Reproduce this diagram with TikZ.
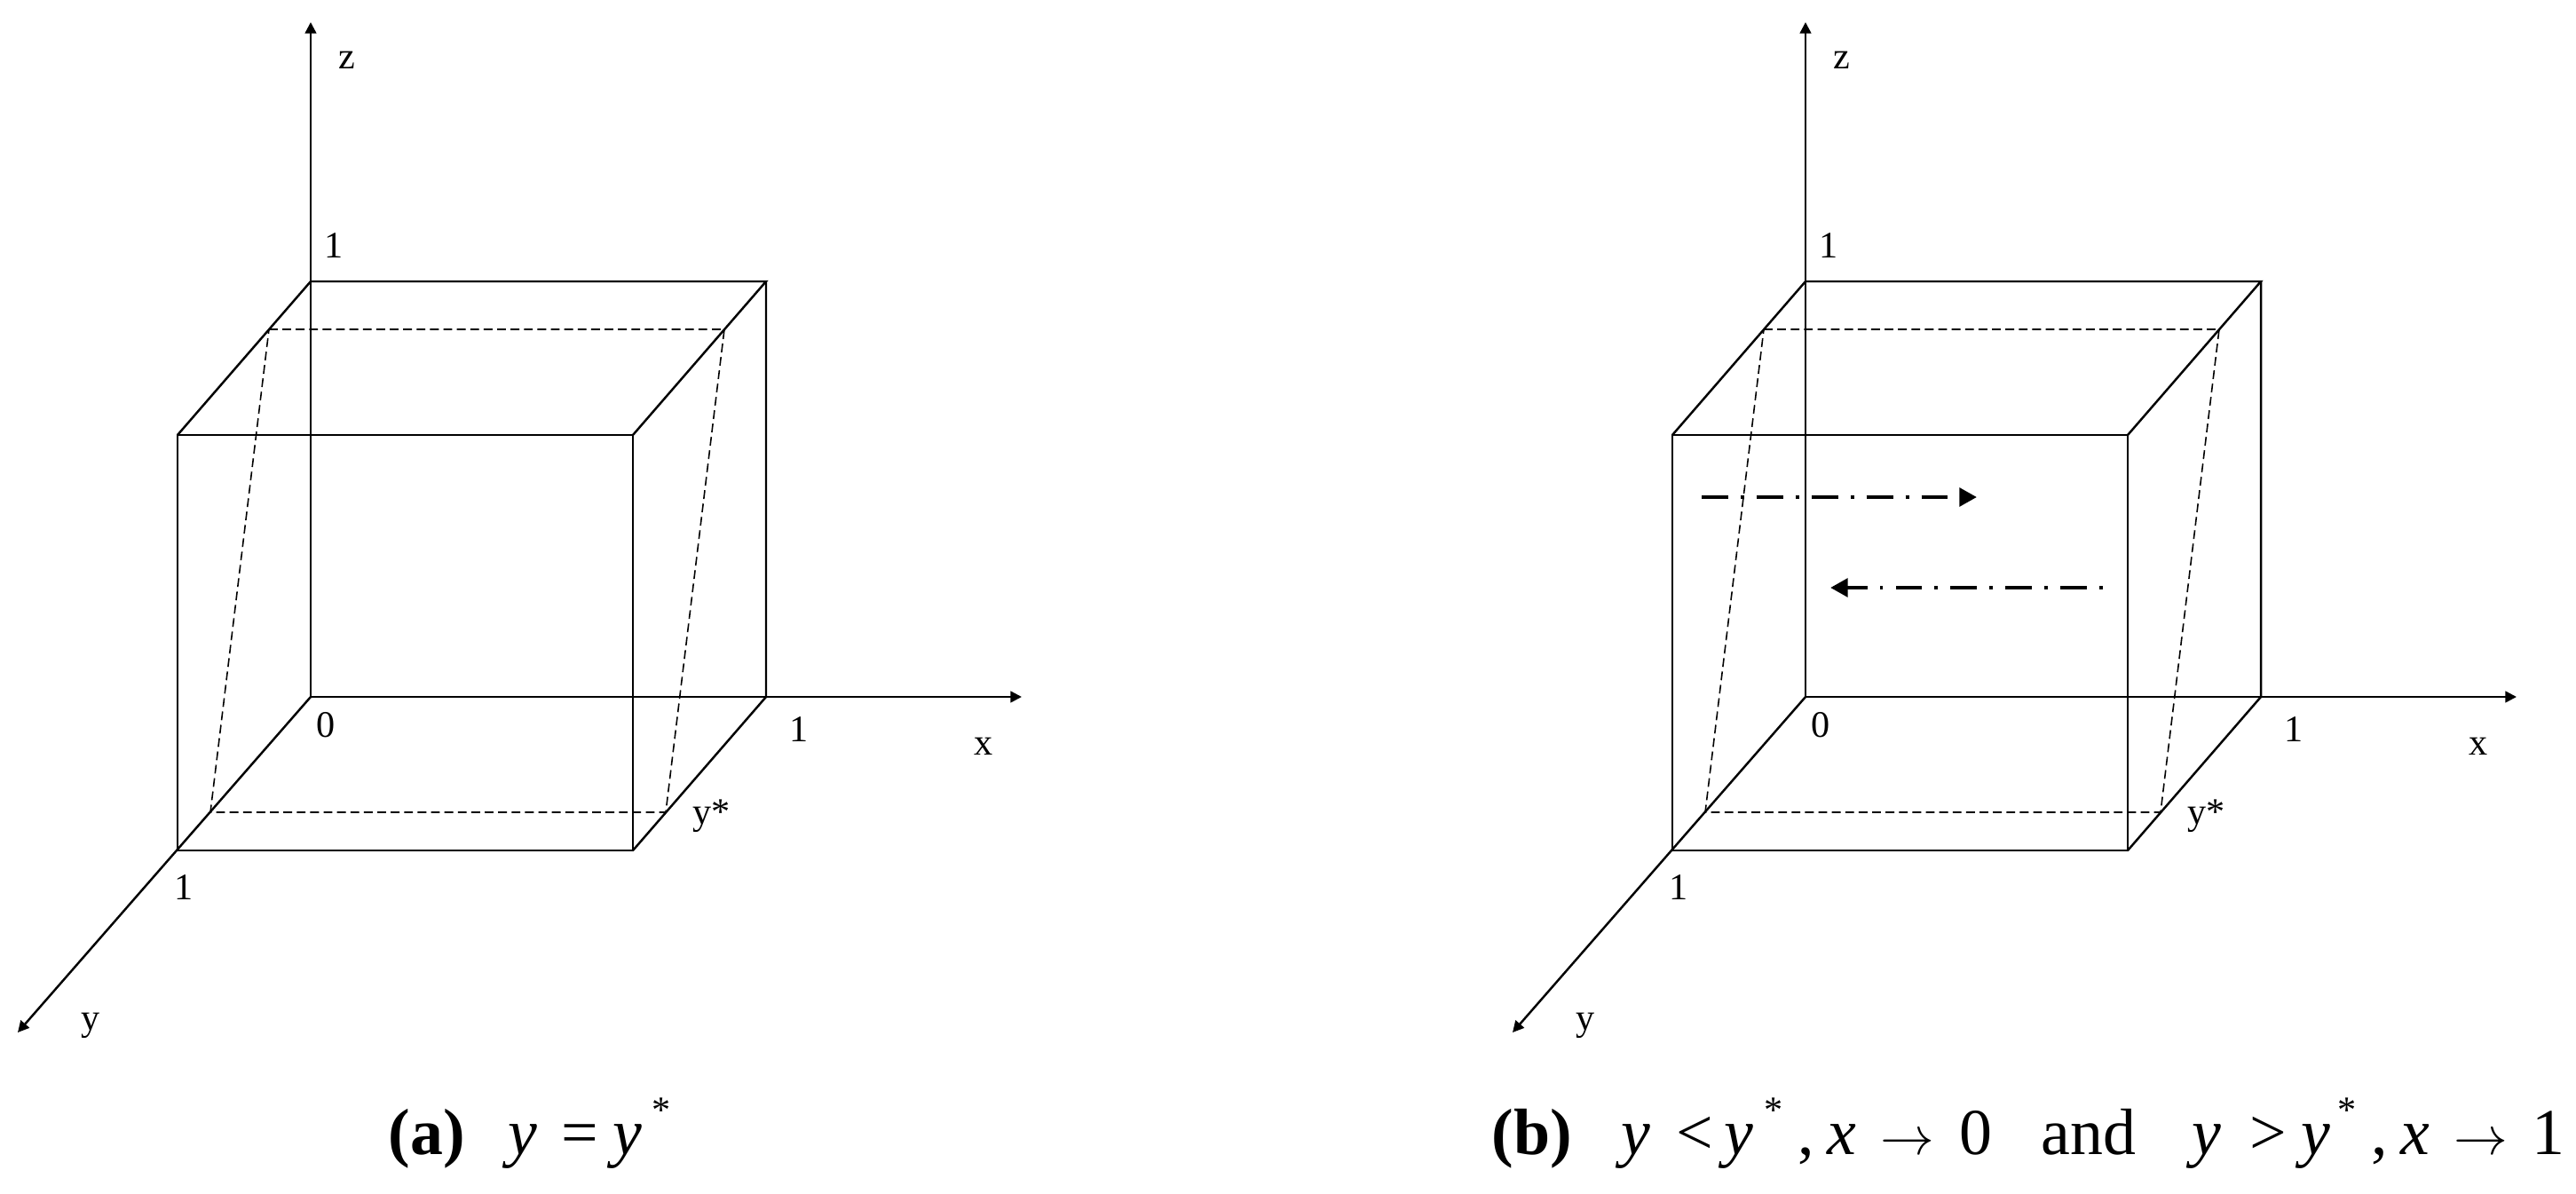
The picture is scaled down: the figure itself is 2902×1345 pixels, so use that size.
\documentclass[tikz,border=0pt]{standalone}
\usepackage{fontspec}
\setmainfont{Liberation Serif}
\usetikzlibrary{arrows.meta}
\begin{document}
\begin{tikzpicture}[x=0.01cm, y=-0.01cm,
  edge/.style={line width=0.7pt, line join=miter},
  axis/.style={line width=0.7pt, -{Triangle[length=3.6pt,width=3.6pt]}},
  plane/.style={line width=0.45pt, dash pattern=on 2.8pt off 1.5pt},
  flowR/.style={line width=1.35pt, dash pattern=on 8.5pt off 4pt on 1.1pt off 4pt, -{Triangle[length=5.6pt,width=5.8pt]}},
  flowL/.style={line width=1.35pt, dash pattern=on 1.1pt off 4pt on 8.5pt off 4pt, -{Triangle[length=5.6pt,width=5.8pt]}},
  lab/.style={font=\fontsize{12}{14}\selectfont, inner sep=0pt, anchor=base},
  captxt/.style={font=\fontsize{21}{25}\selectfont, inner sep=0pt, anchor=base west},
  caparrow/.style={font=\fontsize{18}{20}\selectfont, inner sep=0pt, anchor=base west},
  capstar/.style={font=\fontsize{12}{14}\selectfont, inner sep=0pt, anchor=center},
]
\useasboundingbox (0,0) rectangle (2902,1345);

\foreach \p/\dx in {a/0, b/1684} {
\begin{scope}[shift={(\dx,0)}]
  % cube corners
  \coordinate (\p-O)   at (350,785);
  \coordinate (\p-X)   at (863,785);
  \coordinate (\p-Y)   at (200,958);
  \coordinate (\p-Z)   at (350,317);
  \coordinate (\p-XY)  at (713,958);
  \coordinate (\p-XZ)  at (863,317);
  \coordinate (\p-YZ)  at (200,490);
  \coordinate (\p-XYZ) at (713,490);
  % axis ends
  \coordinate (\p-xend) at (1151,785);
  \coordinate (\p-yend) at (20,1163);
  \coordinate (\p-zend) at (350,25);
  % slanted plane
  \coordinate (\p-P1) at (303,371);
  \coordinate (\p-P2) at (816,371);
  \coordinate (\p-P3) at (750,915);
  \coordinate (\p-P4) at (237,915);

  \draw[axis] (\p-O) -- (\p-xend);
  \draw[axis] (\p-O) -- (\p-yend);
  \draw[axis] (\p-O) -- (\p-zend);

  \draw[edge] (\p-Y) -- (\p-XY) -- (\p-XYZ) -- (\p-YZ) -- cycle;
  \draw[edge] (\p-YZ) -- (\p-Z) -- (\p-XZ) -- (\p-XYZ);
  \draw[edge] (\p-XZ) -- (\p-X) -- (\p-XY);

  \draw[plane] (\p-P1) -- (\p-P2) -- (\p-P3) -- (\p-P4) -- cycle;

  \node[lab] (\p-zl)  at (391,77)   {z};
  \node[lab] (\p-z1)  at (376,290)  {1};
  \node[lab] (\p-o)   at (367,830)  {0};
  \node[lab] (\p-x1)  at (900,835)  {1};
  \node[lab] (\p-xl)  at (1108,850) {x};
  \node[lab, anchor=base west] (\p-ys) at (780,928) {y*};
  \node[lab] (\p-y1)  at (207,1013) {1};
  \node[lab] (\p-yl)  at (102,1160) {y};
\end{scope}
}

% flow arrows in panel (b)
\coordinate (b-f1s) at (1917,560);
\coordinate (b-f1e) at (2227,560);
\coordinate (b-f2s) at (2369,662);
\coordinate (b-f2e) at (2062,662);
\draw[flowR] (b-f1s) -- (b-f1e);
\draw[flowL] (b-f2s) -- (b-f2e);

% caption (a)
\node[captxt] (ca1) at (437,1300) {\textbf{(a)}};
\node[captxt] (ca2) at (572,1300) {\textit{y}};
\node[captxt] (ca3) at (632,1300) {=};
\node[captxt] (ca4) at (690,1300) {\textit{y}};
\node[capstar] (ca5) at (745,1251) {*};

% caption (b)
\node[captxt] (cb1)  at (1680,1300) {\textbf{(b)}};
\node[captxt] (cb2)  at (1826,1300) {\textit{y}};
\node[captxt] (cb3)  at (1888,1300) {<};
\node[captxt] (cb4)  at (1942,1300) {\textit{y}};
\node[capstar] (cb5) at (1998,1251) {*};
\node[captxt] (cb6)  at (2025,1300) {,};
\node[captxt] (cb7)  at (2058,1300) {\textit{x}};
\node[caparrow] (cb8) at (2118,1300) {$\rightarrow$};
\node[captxt] (cb9)  at (2207,1300) {0};
\node[captxt] (cb10) at (2299,1300) {and};
\node[captxt] (cb11) at (2469,1300) {\textit{y}};
\node[captxt] (cb12) at (2534,1300) {>};
\node[captxt] (cb13) at (2592,1300) {\textit{y}};
\node[capstar] (cb14) at (2644,1251) {*};
\node[captxt] (cb15) at (2671,1300) {,};
\node[captxt] (cb16) at (2704,1300) {\textit{x}};
\node[caparrow] (cb17) at (2764,1300) {$\rightarrow$};
\node[captxt] (cb18) at (2852,1300) {1};
\end{tikzpicture}
\end{document}
